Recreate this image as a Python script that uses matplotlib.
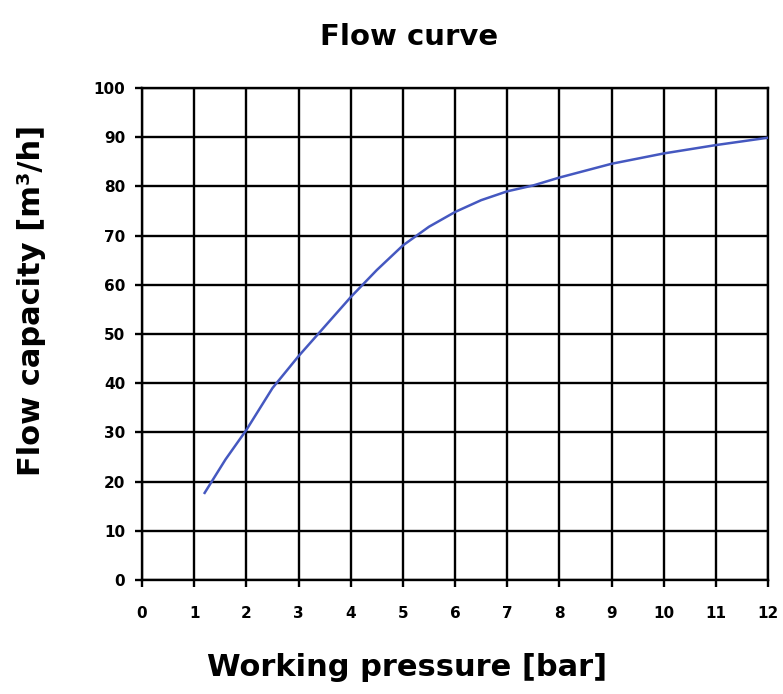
import matplotlib
matplotlib.use("Agg")
import matplotlib.pyplot as plt

# Flow capacity versus working pressure
pressure = [1.2, 1.6, 2.0, 2.5, 3.0, 3.5, 4.0, 4.5, 5.0, 5.5, 6.0, 6.5, 7.0, 7.5, 8.0, 9.0, 10.0, 11.0, 12.0]
flow = [17.7, 24.5, 30.5, 39.0, 45.5, 51.5, 57.5, 63.0, 68.0, 71.8, 74.8, 77.2, 79.0, 80.2, 81.8, 84.6, 86.7, 88.4, 89.9]

x_ticks = list(range(0, 13))
y_ticks = list(range(0, 101, 10))

fig = plt.figure(figsize=(7.83, 6.94), dpi=100)
ax = fig.add_axes([0.1814, 0.1643, 0.981 - 0.1814, 0.8732 - 0.1643])

ax.plot(pressure, flow, color="#4558c0", linewidth=1.8, zorder=3)

ax.set_xlim(0, 12)
ax.set_ylim(0, 100)
ax.set_xticks(x_ticks)
ax.set_yticks(y_ticks)
ax.grid(True, color="black", linewidth=1.7)
ax.set_axisbelow(True)
for s in ax.spines.values():
    s.set_linewidth(1.7)
    s.set_color("black")
ax.tick_params(direction="out", length=5, width=1.7, labelsize=11, pad=14)
for lbl in ax.get_xticklabels() + ax.get_yticklabels():
    lbl.set_fontweight("bold")
ax.tick_params(axis="y", pad=7)

fig.text(409 / 783, 1 - 37 / 694, "Flow curve", fontsize=21, fontweight="bold",
         ha="center", va="center")
fig.text(407 / 783, 1 - 667 / 694, "Working pressure [bar]", fontsize=22,
         fontweight="bold", ha="center", va="center")
fig.text(32 / 783, 1 - 300 / 694, "Flow capacity [m³/h]", fontsize=22,
         fontweight="bold", ha="center", va="center", rotation=90)

fig.savefig("out.png", dpi=100)
